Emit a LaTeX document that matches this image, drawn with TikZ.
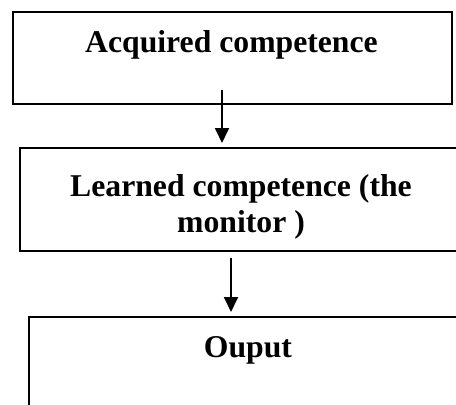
\documentclass[tikz,border=0pt]{standalone}
\usepackage{fontspec}
\setmainfont{Liberation Serif}
\usetikzlibrary{arrows.meta}
\begin{document}
\begin{tikzpicture}[x=1pt,y=-1pt,
  stagebox/.style={draw=black, line width=1.7pt, rectangle, inner sep=0pt, anchor=north west},
  stagetext/.style={font=\fontsize{31.7}{36.5}\selectfont\bfseries, align=center, anchor=base, inner sep=0pt},
  flow/.style={line width=1.8pt, -{Triangle[width=14pt,length=15pt]}, shorten >=4pt}]
  \useasboundingbox (0,0) rectangle (456,405);

  % stage boxes
  \node[stagebox, minimum width=439pt, minimum height=92pt] (acq) at (12,11) {};
  \node[stagebox, minimum width=444pt, minimum height=103pt] (lrn) at (19,147) {};
  \node[stagebox, minimum width=440pt, minimum height=110pt] (out) at (28,316) {};

  % box texts
  \node[stagetext] (acqtxt) at (231.5,52) {Acquired competence};
  \node[stagetext] (lrntxt1) at (241,196) {Learned competence (the};
  \node[stagetext] (lrntxt2) at (241,232) {monitor )};
  \node[stagetext] (outtxt) at (248,357) {Ouput};

  % connectors
  \coordinate (a1) at (222,90);
  \coordinate (a2) at (231,258);
  \draw[flow] (a1) -- (a1 |- lrn.north);
  \draw[flow] (a2) -- (a2 |- out.north);
\end{tikzpicture}
\end{document}
